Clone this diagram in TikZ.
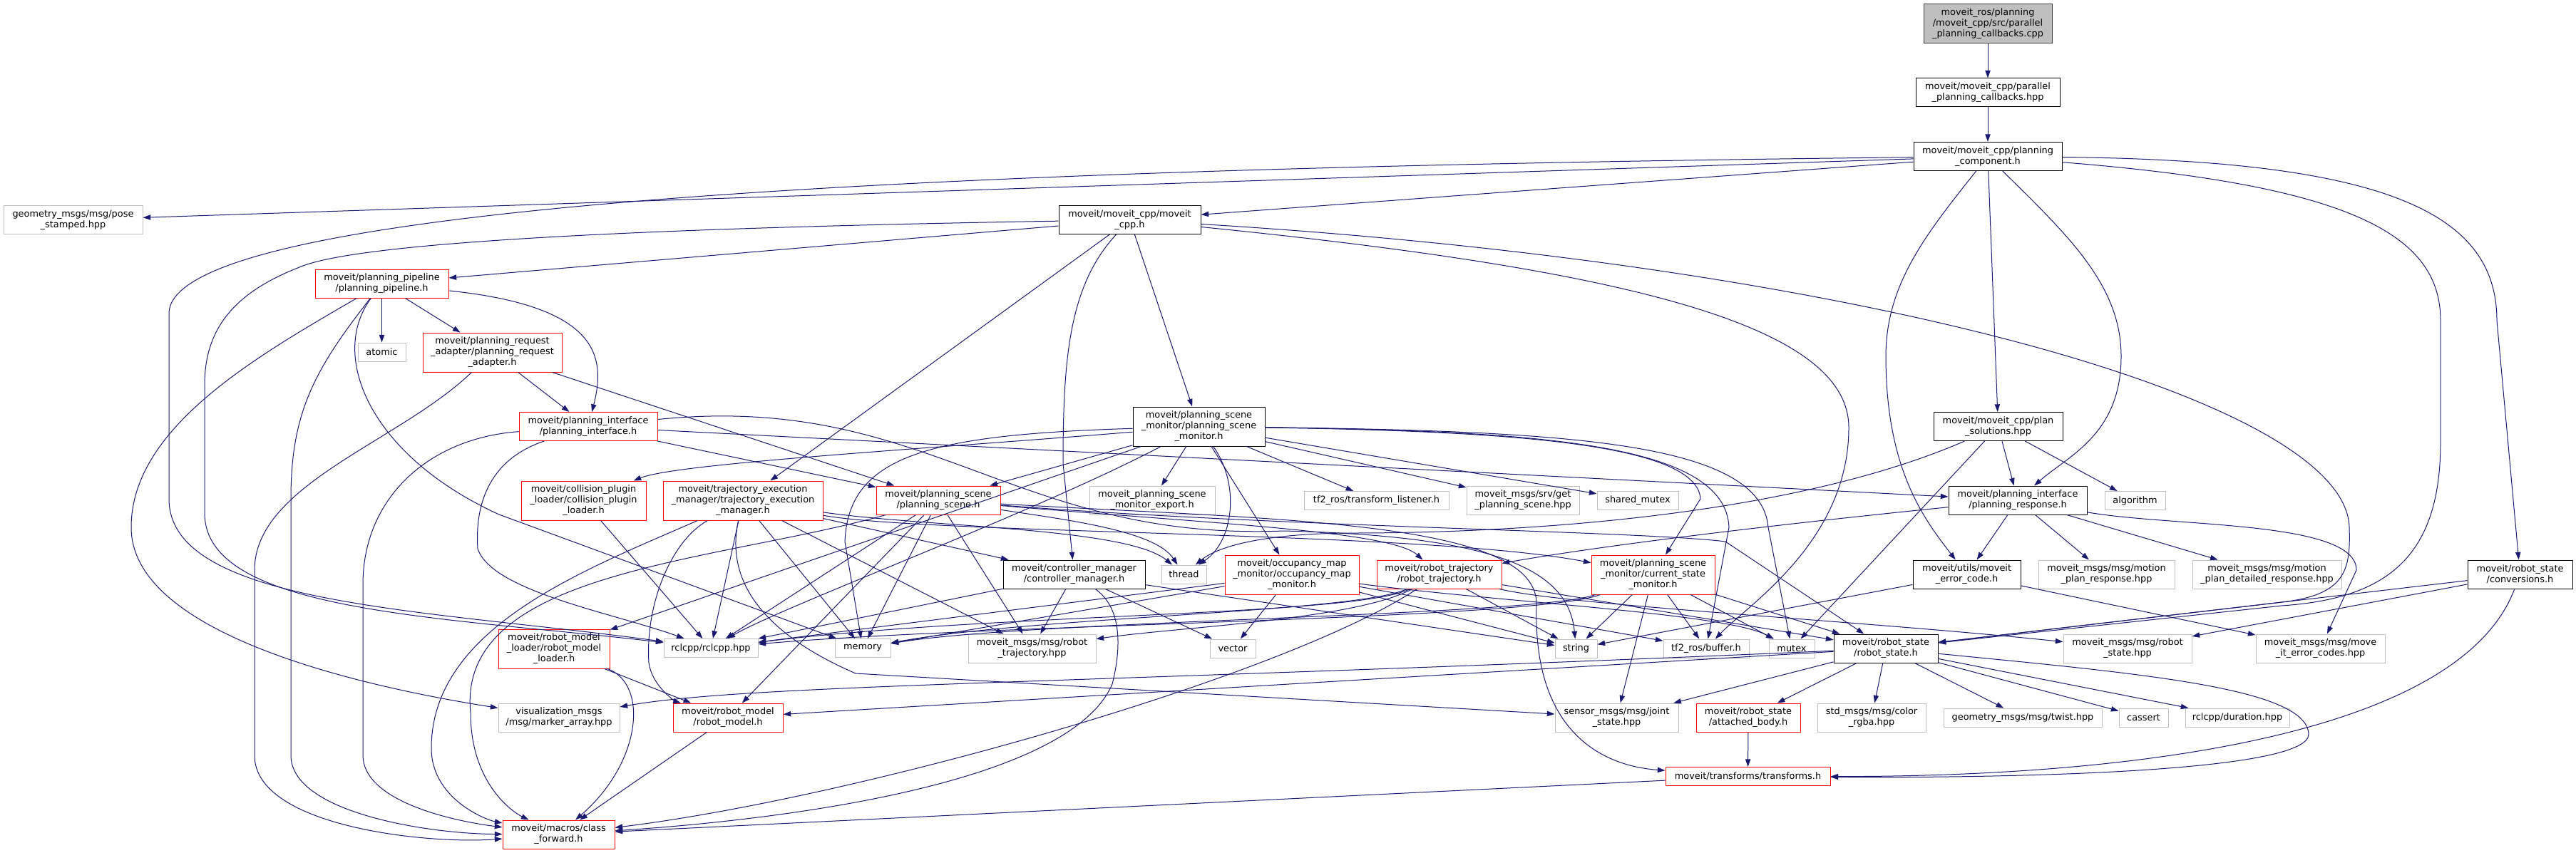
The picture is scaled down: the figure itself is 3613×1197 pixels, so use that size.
\documentclass[tikz,border=0pt]{standalone}
\usepackage{fontspec}
\setmainfont{DejaVu Sans}
\usetikzlibrary{arrows.meta}
\definecolor{dnavy}{HTML}{191970}
\definecolor{dgray}{HTML}{BFBFBF}
\definecolor{ddark}{HTML}{404040}
\definecolor{dred}{HTML}{FF0000}
\newcommand\pxu{0.3mm}
\tikzset{
  filebox/.style={draw=black,fill=white,line width=0.3mm,inner sep=0pt,align=center,font=\fontsize{11}{12.8}\selectfont},
  extbox/.style={filebox,draw=dgray},
  cutbox/.style={filebox,draw=dred},
  rootbox/.style={filebox,draw=ddark,fill=dgray},
  incl/.style={-{Triangle[length=3.2mm,width=2.2mm]},draw=dnavy,line width=0.3mm},
}
\begin{document}
\begin{tikzpicture}[x=0.3mm,y=-0.3mm]
  \useasboundingbox (0,0) rectangle (3613,1197);
  \foreach \nm/\px/\py/\pw/\ph/\st/\tx in {
    root/2788/33.5/180/55/rootbox/{moveit\_ros/planning\\/moveit\_cpp/src/parallel\\\_planning\_callbacks.cpp},
    par/2788/130/202/40/filebox/{moveit/moveit\_cpp/parallel\\\_planning\_callbacks.hpp},
    pc/2788/219.5/208/40/filebox/{moveit/moveit\_cpp/planning\\\_component.h},
    pose/102.5/308.5/195/40/extbox/{geometry\_msgs/msg/pose\\\_stamped.hpp},
    mcpp/1584.5/308.5/199/40/filebox/{moveit/moveit\_cpp/moveit\\\_cpp.h},
    ppl/535.5/398/187/40/cutbox/{moveit/planning\_pipeline\\/planning\_pipeline.h},
    atomic/535.5/494/67/26/extbox/{atomic},
    pra/690.5/494.5/195/55/cutbox/{moveit/planning\_request\\\_adapter/planning\_request\\\_adapter.h},
    pif/825/598.5/194/40/cutbox/{moveit/planning\_interface\\/planning\_interface.h},
    psm/1681.5/598.5/185/55/filebox/{moveit/planning\_scene\\\_monitor/planning\_scene\\\_monitor.h},
    psol/2802.5/598.5/181/40/filebox/{moveit/moveit\_cpp/plan\\\_solutions.hpp},
    cpl/818.5/702.5/175/55/cutbox/{moveit/collision\_plugin\\\_loader/collision\_plugin\\\_loader.h},
    tem/1042/702.5/224/55/cutbox/{moveit/trajectory\_execution\\\_manager/trajectory\_execution\\\_manager.h},
    ps/1316/702/174/40/cutbox/{moveit/planning\_scene\\/planning\_scene.h},
    psme/1616/702/176/40/extbox/{moveit\_planning\_scene\\\_monitor\_export.h},
    tfl/1930.5/702.5/203/26/extbox/{tf2\_ros/transform\_listener.h},
    gps/2136/702/158/40/extbox/{moveit\_msgs/srv/get\\\_planning\_scene.hpp},
    smtx/2297/702.5/114/26/extbox/{shared\_mutex},
    presp/2830/702/194/40/filebox/{moveit/planning\_interface\\/planning\_response.h},
    algo/2994.5/702.5/85/26/extbox/{algorithm},
    cm/1506.5/806/199/40/filebox/{moveit/controller\_manager\\/controller\_manager.h},
    thread/1660.5/806/63/26/extbox/{thread},
    omm/1812/806.5/188/55/cutbox/{moveit/occupancy\_map\\\_monitor/occupancy\_map\\\_monitor.h},
    rt/2018.5/806/175/40/cutbox/{moveit/robot\_trajectory\\/robot\_trajectory.h},
    csm/2318.5/806.5/173/55/cutbox/{moveit/planning\_scene\\\_monitor/current\_state\\\_monitor.h},
    mec/2758.5/806/151/40/filebox/{moveit/utils/moveit\\\_error\_code.h},
    mpr/2954.5/806/191/40/extbox/{moveit\_msgs/msg/motion\\\_plan\_response.hpp},
    mpdr/3179.5/806/209/40/extbox/{moveit\_msgs/msg/motion\\\_plan\_detailed\_response.hpp},
    conv/3534.5/806/147/40/filebox/{moveit/robot\_state\\/conversions.h},
    rclcpp/997/909.5/132/26/extbox/{rclcpp/rclcpp.hpp},
    rml/777/910.5/156/55/cutbox/{moveit/robot\_model\\\_loader/robot\_model\\\_loader.h},
    memory/1210/909.5/78/26/extbox/{memory},
    rtmsg/1447.5/910/179/40/extbox/{moveit\_msgs/msg/robot\\\_trajectory.hpp},
    vector/1729/910/64/26/extbox/{vector},
    string/2210.5/910/59/26/extbox/{string},
    buffer/2393/910/120/26/extbox/{tf2\_ros/buffer.h},
    mutex/2513/910/64/26/extbox/{mutex},
    rs/2645/910/146/40/filebox/{moveit/robot\_state\\/robot\_state.h},
    rsmsg/2984/910/180/40/extbox/{moveit\_msgs/msg/robot\\\_state.hpp},
    mecc/3254.5/910/181/40/extbox/{moveit\_msgs/msg/move\\\_it\_error\_codes.hpp},
    vis/784/1007/170/40/extbox/{visualization\_msgs\\/msg/marker\_array.hpp},
    rm/1021/1007/154/40/cutbox/{moveit/robot\_model\\/robot\_model.h},
    js/2267.5/1007/173/40/extbox/{sensor\_msgs/msg/joint\\\_state.hpp},
    ab/2452/1007/146/40/cutbox/{moveit/robot\_state\\/attached\_body.h},
    rgba/2625/1007/152/40/extbox/{std\_msgs/msg/color\\\_rgba.hpp},
    twist/2837/1007/222/26/extbox/{geometry\_msgs/msg/twist.hpp},
    cassert/3006.5/1007/69/26/extbox/{cassert},
    dur/3138/1007/146/26/extbox/{rclcpp/duration.hpp},
    tf/2451.5/1089.5/231/26/cutbox/{moveit/transforms/transforms.h},
    cf/783.5/1171/157/40/cutbox/{moveit/macros/class\\\_forward.h}}
    \node[\st,minimum width=\pw*\pxu,minimum height=\ph*\pxu] (\nm) at (\px,\py) {\tx};

  \foreach \a/\b in {root/par,par/pc,pc/pose,pc/mcpp,pc/psol,
      mcpp/ppl,mcpp/tem,mcpp/psm,ppl/atomic,ppl/pra,pra/pif,pra/ps,pif/ps,pif/presp,
      psm/ps,psm/rml,psm/psme,psm/omm,psm/tfl,psm/gps,psm/smtx,cpl/rclcpp,
      tem/rclcpp,tem/memory,tem/rtmsg,tem/cm,ps/rclcpp,ps/memory,ps/rm,ps/rtmsg,
      cm/rclcpp,cm/rtmsg,cm/vector,cm/string,omm/rclcpp,omm/memory,omm/vector,omm/string,omm/buffer,
      rt/string,rt/rs,csm/string,csm/js,csm/buffer,csm/mutex,csm/rs,
      psol/mutex,psol/presp,psol/algo,presp/mec,presp/mpr,presp/mpdr,mec/string,mec/mecc,
      conv/rs,conv/rsmsg,rs/js,rs/rm,rs/ab,rs/rgba,rs/twist,rs/cassert,rs/dur,
      ab/tf,rml/rm,rm/cf,tf/cf}
    \draw[incl] (\a) -- (\b);

  \draw[incl] (pc) .. controls (1400,235) and (237,280) .. (237,440) -- (237,700) .. controls (237,850) and (600,855) .. (rclcpp);
  \draw[incl] (mcpp) .. controls (900,320) and (500,340) .. (420,375) .. controls (330,410) and (287,460) .. (287,540) -- (287,720) .. controls (287,860) and (620,865) .. (rclcpp);
  \draw[incl] (pc) .. controls (2700,330) and (2645,400) .. (2645,500) .. controls (2645,660) and (2700,730) .. (mec);
  \draw[incl] (pc) .. controls (2900,330) and (2975,400) .. (2975,500) .. controls (2975,610) and (2900,640) .. (presp);
  \draw[incl] (pc) .. controls (3300,260) and (3423,330) .. (3423,450) -- (3423,620) .. controls (3423,780) and (3350,840) .. (3200,850) -- (rs);
  \draw[incl] (pc) .. controls (3350,225) and (3502,300) .. (3502,450) -- (conv);
  \draw[incl] (mcpp) .. controls (1500,400) and (1491,500) .. (1491,650) -- (cm);
  \draw[incl] (mcpp) .. controls (2300,380) and (2593,460) .. (2593,600) .. controls (2593,760) and (2450,850) .. (buffer);
  \draw[incl] (mcpp) .. controls (2600,370) and (3290,560) .. (3295,740) .. controls (3297,800) and (3290,835) .. (3200,845) -- (rs);
  \draw[incl] (ppl) .. controls (360,500) and (184,600) .. (184,740) .. controls (184,900) and (550,970) .. (vis);
  \draw[incl] (ppl) .. controls (440,520) and (408,580) .. (408,700) -- (408,1060) .. controls (408,1140) and (600,1170) .. (cf);
  \draw[incl] (ppl) .. controls (840,430) and (850,500) .. (pif);
  \draw[incl] (ppl) .. controls (460,500) and (520,640) .. (700,722) -- (memory);
  \draw[incl] (pra) .. controls (560,620) and (357,680) .. (357,800) -- (357,1060) .. controls (357,1160) and (600,1185) .. (cf);
  \draw[incl] (pif) .. controls (600,615) and (509,700) .. (509,820) -- (509,1060) .. controls (509,1120) and (620,1150) .. (cf);
  \draw[incl] (pif) .. controls (700,640) and (665,690) .. (670,770) .. controls (690,830) and (860,860) .. (rclcpp);
  \draw[incl] (pif) .. controls (1300,550) and (1420,760) .. (1800,745) .. controls (2100,752) and (2200,800) .. (string);
  \draw[incl] (psm) .. controls (1300,630) and (950,650) .. (cpl);
  \draw[incl] (psm) .. controls (1450,720) and (1100,850) .. (rclcpp);
  \draw[incl] (psm) .. controls (1300,610) and (1190,640) .. (1185,760) -- (memory);
  \draw[incl] (psm) .. controls (1740,680) and (1730,760) .. (thread);
  \draw[incl] (psm) .. controls (2100,605) and (2380,620) .. (2385,700) -- (csm);
  \draw[incl] (psm) .. controls (2150,605) and (2420,620) .. (2425,740) -- (buffer);
  \draw[incl] (psm) .. controls (2200,605) and (2470,620) .. (2480,740) -- (mutex);
  \draw[incl] (tem) .. controls (1300,750) and (2000,745) .. (csm);
  \draw[incl] (tem) .. controls (1300,740) and (1580,740) .. (thread);
  \draw[incl] (tem) .. controls (940,760) and (905,850) .. (910,930) .. controls (915,965) and (950,985) .. (rm);
  \draw[incl] (tem) .. controls (1020,800) and (1050,880) .. (1200,945) -- (js);
  \draw[incl] (tem) .. controls (820,800) and (605,880) .. (605,1050) .. controls (605,1120) and (680,1150) .. (cf);
  \draw[incl] (ps) .. controls (1500,730) and (1620,745) .. (thread);
  \draw[incl] (ps) .. controls (1700,735) and (1950,745) .. (rt);
  \draw[incl] (ps) .. controls (1800,740) and (2300,745) .. (2420,760) -- (rs);
  \draw[incl] (ps) .. controls (1800,730) and (2160,730) .. (2155,850) .. controls (2150,1030) and (2250,1075) .. (tf);
  \draw[incl] (ps) .. controls (1000,790) and (640,800) .. (660,1000) .. controls (660,1100) and (720,1140) .. (cf);
  \draw[incl] (cm) .. controls (1570,850) and (1575,900) .. (1560,960) .. controls (1500,1100) and (1100,1150) .. (cf);
  \draw[incl] (omm) .. controls (2100,845) and (2420,860) .. (mutex);
  \draw[incl] (rt) .. controls (1900,865) and (1400,860) .. (rclcpp);
  \draw[incl] (rt) .. controls (1900,860) and (1450,865) .. (memory);
  \draw[incl] (rt) .. controls (1900,870) and (1650,880) .. (rtmsg);
  \draw[incl] (rt) .. controls (2200,850) and (2600,870) .. (rsmsg);
  \draw[incl] (rt) .. controls (1800,950) and (1200,1120) .. (cf);
  \draw[incl] (csm) .. controls (2150,870) and (1400,875) .. (rclcpp);
  \draw[incl] (csm) .. controls (2150,865) and (1450,870) .. (memory);
  \draw[incl] (psol) .. controls (2500,730) and (2100,748) .. (1900,748) .. controls (1780,748) and (1710,765) .. (thread);
  \draw[incl] (presp) .. controls (2500,735) and (2250,765) .. (rt);
  \draw[incl] (presp) .. controls (3050,740) and (3305,730) .. (3305,800) -- (mecc);
  \draw[incl] (conv) .. controls (3450,1030) and (3000,1090) .. (tf);
  \draw[incl] (rs) .. controls (3000,945) and (3235,965) .. (3238,1030) .. controls (3240,1085) and (2800,1092) .. (tf);
  \draw[incl] (rs) .. controls (1500,960) and (1050,960) .. (vis);
  \draw[incl] (rml) .. controls (910,960) and (900,1070) .. (cf);
\end{tikzpicture}
\end{document}
